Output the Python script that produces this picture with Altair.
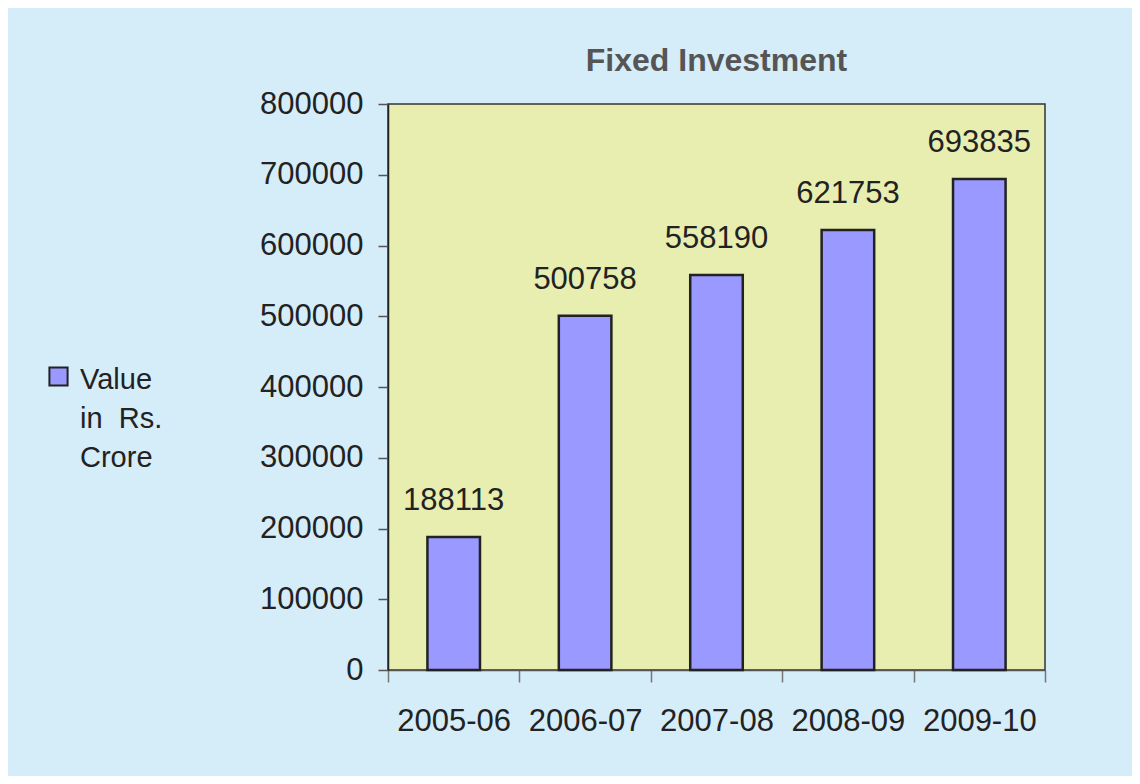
import altair as alt
import pandas as pd

years = ["2005-06", "2006-07", "2007-08", "2008-09", "2009-10"]
values = [188113, 500758, 558190, 621753, 693835]
series = ["Value in Rs. Crore"] * len(years)
legend_lines = ["Value", "in\u00a0\u00a0Rs.", "Crore"]
y_ticks = [0, 100000, 200000, 300000, 400000, 500000, 600000, 700000, 800000]

df = pd.DataFrame({"year": years, "value": values, "series": series})

FONT = "Liberation Sans"

x_enc = alt.X(
    "year:N",
    sort=years,
    scale=alt.Scale(paddingInner=0, paddingOuter=0),
    axis=alt.Axis(
        title=None,
        labelAngle=0,
        tickBand="extent",
        tickSize=12,
        tickColor="#777",
        tickWidth=1.5,
        domainColor="#555",
        domainWidth=1.5,
        labelFontSize=31,
        labelFont=FONT,
        labelColor="#222",
        labelPadding=24,
    ),
)

bars = alt.Chart(df).mark_bar(
    stroke="#222", strokeWidth=2.5, width=alt.RelativeBandSize(0.4)
).encode(
    x=x_enc,
    y=alt.Y(
        "value:Q",
        scale=alt.Scale(domain=[0, 800000], nice=False),
        axis=alt.Axis(
            title=None,
            values=y_ticks,
            format="d",
            grid=False,
            tickSize=10,
            tickColor="#555",
            tickWidth=1.5,
            domainColor="#222",
            domainWidth=1.5,
            labelFontSize=31,
            labelFont=FONT,
            labelColor="#222",
            labelPadding=15,
        ),
    ),
    color=alt.Color(
        "series:N",
        scale=alt.Scale(range=["#9999ff"]),
        legend=alt.Legend(
            title=legend_lines,
            titleOrient="right",
            titleAnchor="start",
            titleFontSize=29,
            titleFont=FONT,
            titleFontWeight="normal",
            titleColor="#222",
            titleLineHeight=39,
            titleBaseline="top",
            titleAlign="left",
            titlePadding=8,
            orient="none",
            legendX=-340,
            legendY=262,
            symbolType="square",
            symbolSize=330,
            symbolStrokeColor="#222",
            symbolStrokeWidth=2,
            symbolFillColor="#9999ff",
            labelExpr="''",
            labelOffset=0,
        ),
    ),
)

labels = alt.Chart(df).mark_text(
    baseline="bottom", dy=-20, fontSize=31, font=FONT, color="#222"
).encode(
    x=alt.X("year:N", sort=years),
    y=alt.Y("value:Q"),
    text=alt.Text("value:Q", format="d"),
)

chart = (
    alt.layer(bars, labels)
    .properties(
        width=657,
        height=566,
        background="#d5ecf9",
        autosize=alt.AutoSizeParams(type="none"),
        padding={"left": 380, "top": 96, "right": 87, "bottom": 106},
        title=alt.TitleParams(
            "Fixed Investment",
            fontSize=32,
            font=FONT,
            fontWeight="bold",
            color="#555",
            offset=10,
            anchor="middle",
        ),
    )
    .configure_view(fill="#e8edb0", stroke="#333", strokeWidth=1.5)
)

chart.save("out.html", embed_options={"renderer": "svg", "actions": False})
